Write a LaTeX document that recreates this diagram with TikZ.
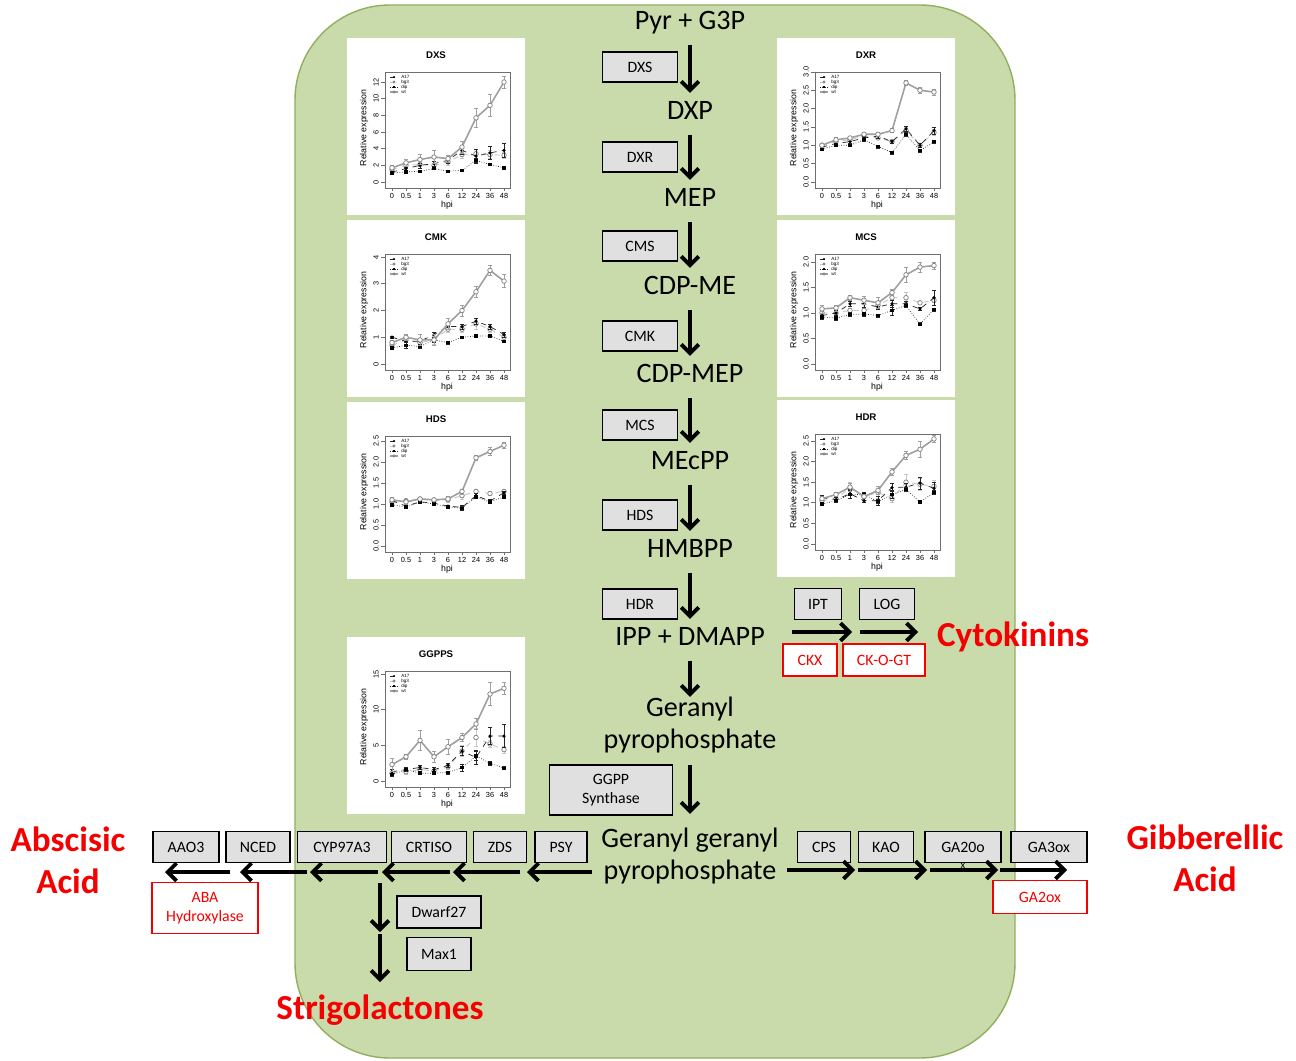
\documentclass[tikz,border=0pt]{standalone}
\usepackage{fontspec}
\setmainfont{Carlito}
\newfontfamily\plotfont{Liberation Sans}
\usetikzlibrary{arrows.meta}
\definecolor{bggreen}{RGB}{201,219,170}
\definecolor{bgedge}{RGB}{145,175,95}
\definecolor{boxgray}{RGB}{224,224,224}
\definecolor{lblred}{RGB}{245,0,0}
\definecolor{pgray}{RGB}{110,110,110}

\tikzset{
 met/.style={font=\fontsize{16}{18}\selectfont, text height=11.2pt, text depth=3.2pt, inner sep=2pt, align=center},
 mettwo/.style={font=\fontsize{16}{18}\selectfont, inner sep=2pt, align=center},
 enz/.style={draw=black, line width=1.1pt, fill=boxgray, font=\fontsize{9}{11}\selectfont, minimum width=1.5cm, minimum height=0.6cm, inner sep=1pt, align=center},
 inh/.style={draw=lblred, line width=1.1pt, fill=white, text=lblred, font=\fontsize{9}{11}\selectfont, minimum height=0.64cm, inner sep=1pt, align=center},
 prod/.style={text=lblred, font=\fontsize{20}{24}\selectfont\bfseries, align=center, inner sep=1pt},
 flow/.style={line width=2.2pt, -{Straight Barb[length=5pt,width=10pt]}},
 pframe/.style={draw=pgray, line width=0.4pt},
 ptick/.style={font=\plotfont\fontsize{4.2}{5}\selectfont, inner sep=0pt},
 plab/.style={font=\plotfont\fontsize{5}{6}\selectfont, inner sep=0pt},
 pleg/.style={font=\plotfont\fontsize{2.6}{3}\selectfont, inner sep=0pt},
 ptitle/.style={font=\plotfont\bfseries\fontsize{5.5}{6}\selectfont, inner sep=0pt},
 wts/.style={draw=gray!75, line width=0.9pt},
 bgs/.style={draw=gray!45, line width=0.5pt, dashed},
 aas/.style={draw=black!85, line width=0.4pt, dashed},
 dps/.style={draw=black!85, line width=0.4pt, densely dotted},
 mko/.style={circle, draw=gray, fill=white, inner sep=0pt, minimum size=2.6pt, line width=0.4pt},
 mkf/.style={rectangle, fill=black, inner sep=0pt, minimum size=1.9pt},
 mkc/.style={circle, fill=black, inner sep=0pt, minimum size=2pt},
}

\newcommand\plotframe[3]{%
 \fill[white] (0,0) rectangle (178,177);
 \node[ptitle] at (89,17) {#1};
 \draw[pframe] (38,34) rectangle (163,150);
 \foreach \tv/\tl in {#3} {\draw[pframe] (38,{144-\tv*#2}) -- (34,{144-\tv*#2});
   \node[ptick,rotate=90] at (29,{144-\tv*#2}) {\tl};}
 \foreach \tl [count=\ti from 0] in {0,0.5,1,3,6,12,24,36,48} {\draw[pframe] ({45+14*\ti},150) -- ({45+14*\ti},153);
   \node[ptick] at ({45+14*\ti},158) {\tl};}
 \node[plab] at (100,167) {hpi};
 \node[plab,rotate=90] at (17,90) {Relative expression};
 \foreach \lnm/\lst/\lmk [count=\lk from 0] in {A17/aas/mkc, bg3/bgs/mko, dip/dps/mkf, wt/wts/mko} {
   \draw[\lst] (43,{39+5*\lk}) -- (51,{39+5*\lk});
   \node[\lmk, minimum size=1.4pt] at (47,{39+5*\lk}) {};
   \node[pleg, anchor=west] at (54,{39+5*\lk}) {\lnm};}
}

\newcommand\series[4]{%
 \foreach \sv/\se [count=\si from 0] in {#4} {
   \coordinate (q\si) at ({45+14*\si},{144-\sv*#3});
   \draw[#1,solid,line width=0.35pt] ({45+14*\si},{144-(\sv-\se)*#3}) -- ({45+14*\si},{144-(\sv+\se)*#3})
     ({43+14*\si},{144-(\sv-\se)*#3}) -- ({47+14*\si},{144-(\sv-\se)*#3})
     ({43+14*\si},{144-(\sv+\se)*#3}) -- ({47+14*\si},{144-(\sv+\se)*#3});
 }
 \draw[#1] (q0)--(q1)--(q2)--(q3)--(q4)--(q5)--(q6)--(q7)--(q8);
 \foreach \si in {0,...,8} \node[#2] at (q\si) {};
}

\begin{document}
\begin{tikzpicture}[x=0.02cm, y=-0.02cm]
\useasboundingbox (0,0) rectangle (1296,1061);
\fill[white] (0,0) rectangle (1296,1061);
\draw[fill=bggreen, draw=bgedge, line width=0.8pt, rounded corners=1.9cm] (295,5) rectangle (1015,1058);

% ---------- plots ----------
\begin{scope}[shift={(347,38)}]
 \plotframe{DXS}{8.33}{0/0,2/2,4/4,6/6,8/8,10/10,12/12}
 \series{bgs}{mko}{8.33}{1.5/0.2,2.0/0.3,2.1/0.2,2.0/0.3,2.4/0.4,3.3/0.4,3.4/0.5,3.3/0.5,3.2/0.4}
 \series{aas}{mkc}{8.33}{1.2/0.2,1.6/0.2,2.0/0.3,2.2/0.3,2.6/0.3,3.8/0.5,3.1/0.8,3.5/0.8,3.8/0.8}
 \series{dps}{mkf}{8.33}{1.1/0.1,1.2/0.1,1.3/0.1,1.6/0.1,1.3/0.1,1.4/0.1,2.6/0.2,2.1/0.1,1.7/0.1}
 \series{wts}{mko}{8.33}{1.7/0.3,2.3/0.4,2.7/0.6,3.0/0.8,2.8/0.4,4.2/0.7,7.7/1.1,9.2/1.3,12/0.7}
\end{scope}
\begin{scope}[shift={(347,220)}]
 \plotframe{CMK}{26.75}{0/0,1/1,2/2,3/3,4/4}
 \series{bgs}{mko}{26.75}{0.7/0.1,0.9/0.1,0.8/0.1,0.9/0.15,1.3/0.1,1.3/0.1,1.5/0.2,1.3/0.1,1.0/0.1}
 \series{aas}{mkc}{26.75}{1.0/0.05,0.85/0.1,0.85/0.1,1.1/0.1,1.4/0.1,1.4/0.1,1.6/0.1,1.4/0.1,1.1/0.1}
 \series{dps}{mkf}{26.75}{0.6/0.05,0.7/0.1,0.65/0.05,0.9/0.1,0.8/0.05,1.0/0.05,1.05/0.05,1.05/0.05,0.85/0.05}
 \series{wts}{mko}{26.75}{0.8/0.1,1.0/0.1,0.9/0.2,0.9/0.2,1.5/0.2,2.0/0.2,2.7/0.2,3.5/0.2,3.1/0.25}
\end{scope}
\begin{scope}[shift={(347,402)}]
 \plotframe{HDS}{42}{0/0.0,0.5/0.5,1/1.0,1.5/1.5,2/2.0,2.5/2.5}
 \series{bgs}{mko}{42}{1.05/0.05,1.08/0.04,1.12/0.04,1.08/0.04,1.1/0.05,1.2/0.08,1.3/0.05,1.25/0.05,1.3/0.05}
 \series{aas}{mkc}{42}{1.08/0.05,0.95/0.05,1.05/0.04,1.02/0.04,0.95/0.03,0.92/0.05,1.2/0.05,1.07/0.04,1.27/0.04}
 \series{dps}{mkf}{42}{0.98/0.04,0.93/0.04,1.05/0.04,1.0/0.03,0.93/0.03,0.9/0.04,1.17/0.04,1.05/0.04,1.17/0.04}
 \series{wts}{mko}{42}{1.1/0.05,1.05/0.05,1.12/0.04,1.1/0.04,1.12/0.06,1.3/0.06,2.1/0.05,2.25/0.1,2.4/0.08}
\end{scope}
\begin{scope}[shift={(347,637)}]
 \plotframe{GGPPS}{7.13}{0/0,5/5,10/10,15/15}
 \series{bgs}{mko}{7.13}{1.1/0.3,1.3/0.3,1.6/0.4,1.4/0.3,2.0/0.4,4.2/0.8,6.1/1.3,5.2/0.5,4.4/0.5}
 \series{aas}{mkc}{7.13}{1.3/0.4,1.6/0.3,1.9/0.3,1.6/0.3,2.2/0.3,4.2/0.6,3.3/1.0,6.3/1.2,6.3/1.6}
 \series{dps}{mkf}{7.13}{0.9/0.2,1.6/0.2,1.1/0.2,1.1/0.2,1.2/0.2,1.9/0.5,3.5/0.6,2.5/0.3,1.8/0.2}
 \series{wts}{mko}{7.13}{2.3/0.9,3.4/0.3,5.7/1.4,3.4/0.8,4.8/1.1,6.1/0.6,8.0/0.8,12.2/1.6,13.0/0.8}
\end{scope}
\begin{scope}[shift={(777,38)}]
 \plotframe{DXR}{36.7}{0/0.0,0.5/0.5,1/1.0,1.5/1.5,2/2.0,2.5/2.5,3/3.0}
 \series{bgs}{mko}{36.7}{1.0/0.05,1.1/0.05,1.15/0.05,1.25/0.05,1.2/0.05,1.1/0.05,1.4/0.08,1.0/0.05,1.35/0.08}
 \series{aas}{mkc}{36.7}{0.95/0.1,1.05/0.05,1.1/0.05,1.2/0.05,1.25/0.05,1.1/0.04,1.45/0.08,1.0/0.05,1.4/0.1}
 \series{dps}{mkf}{36.7}{0.9/0.05,1.0/0.04,1.0/0.04,1.15/0.04,0.97/0.04,0.8/0.04,1.3/0.05,0.85/0.04,1.1/0.04}
 \series{wts}{mko}{36.7}{1.0/0.05,1.15/0.06,1.2/0.05,1.3/0.04,1.3/0.05,1.4/0.05,2.7/0.06,2.5/0.08,2.45/0.08}
\end{scope}
\begin{scope}[shift={(777,220)}]
 \plotframe{MCS}{51}{0/0.0,0.5/0.5,1/1.0,1.5/1.5,2/2.0}
 \series{bgs}{mko}{51}{1.0/0.05,1.0/0.05,1.05/0.05,1.05/0.05,1.15/0.05,1.3/0.05,1.3/0.1,1.2/0.03,1.25/0.05}
 \series{aas}{mkc}{51}{0.95/0.05,1.0/0.05,1.18/0.05,1.18/0.06,1.12/0.05,1.18/0.06,1.18/0.05,1.08/0.03,1.3/0.15}
 \series{dps}{mkf}{51}{0.92/0.04,0.9/0.04,0.97/0.04,0.98/0.04,0.95/0.03,1.05/0.1,1.15/0.04,0.78/0.03,1.07/0.03}
 \series{wts}{mko}{51}{1.08/0.08,1.1/0.06,1.3/0.05,1.25/0.08,1.2/0.1,1.4/0.06,1.75/0.15,1.9/0.1,1.93/0.07}
\end{scope}
\begin{scope}[shift={(777,400)}]
 \plotframe{HDR}{41.2}{0/0.0,0.5/0.5,1/1.0,1.5/1.5,2/2.0,2.5/2.5}
 \series{bgs}{mko}{41.2}{1.05/0.05,1.1/0.05,1.35/0.15,1.15/0.1,1.25/0.15,1.1/0.1,1.5/0.2,1.45/0.15,1.4/0.15}
 \series{aas}{mkc}{41.2}{1.12/0.05,1.08/0.05,1.22/0.1,1.05/0.05,1.05/0.1,1.37/0.1,1.38/0.1,1.48/0.15,1.35/0.15}
 \series{dps}{mkf}{41.2}{0.97/0.04,1.05/0.04,1.2/0.1,1.2/0.05,1.03/0.05,1.2/0.1,1.33/0.05,1.02/0.03,1.25/0.05}
 \series{wts}{mko}{41.2}{1.1/0.05,1.2/0.05,1.38/0.1,1.15/0.05,1.3/0.1,1.75/0.08,2.15/0.1,2.3/0.2,2.55/0.08}
\end{scope}

% ---------- central pathway ----------
\node[met] (pyr) at (690,22) {Pyr + G3P};
\node[met] (dxp) at (690,112) {DXP};
\node[met] (mep) at (690,199) {MEP};
\node[met] (cdpme) at (690,287) {CDP-ME};
\node[met] (cdpmep) at (690,375) {CDP-MEP};
\node[met] (mecpp) at (690,462) {MEcPP};
\node[met] (hmbpp) at (690,550) {HMBPP};
\node[met] (ipp) at (690,638) {IPP + DMAPP};
\node[mettwo] (gpp) at (690,725) {Geranyl\\pyrophosphate};
\node[mettwo] (ggpp) at (690,856) {Geranyl geranyl\\pyrophosphate};

\foreach \a/\b in {pyr/dxp, dxp/mep, mep/cdpme, cdpme/cdpmep, cdpmep/mecpp, mecpp/hmbpp, hmbpp/ipp}
  \draw[flow, shorten <=3.5pt, shorten >=1.5pt] (\a) -- (\b);
\draw[flow, shorten <=3.5pt, shorten >=-2pt] (ipp) -- (gpp);
\draw[flow, shorten <=5pt, shorten >=6pt] (gpp) -- (ggpp);

\node[enz] (dxs) at (640,67) {DXS};
\node[enz] (dxr) at (640,157) {DXR};
\node[enz] (cms) at (640,246) {CMS};
\node[enz] (cmk) at (640,336) {CMK};
\node[enz] (mcs) at (640,425) {MCS};
\node[enz] (hds) at (640,515) {HDS};
\node[enz] (hdr) at (640,604) {HDR};
\node[enz, minimum width=2.46cm, minimum height=1cm] (ggps) at (611,790) {GGPP\\Synthase};

% ---------- cytokinins ----------
\node[enz, minimum width=0.94cm, minimum height=0.62cm] (ipt) at (818,604) {IPT};
\node[enz, minimum width=1.1cm, minimum height=0.62cm] (log) at (887,604) {LOG};
\node[inh, minimum width=1.08cm] (ckx) at (810,660) {CKX};
\node[inh, minimum width=1.64cm] (ckogt) at (884,660) {CK-O-GT};
\node[prod] (cyto) at (1013,637) {Cytokinins};
\coordinate (c0) at (792,632); \coordinate (c1) at (852,632);
\coordinate (c2) at (860,632); \coordinate (c3) at (918,632);
\draw[flow] (c0) -- (c1);
\draw[flow] (c2) -- (c3);

% ---------- carotenoid / ABA branch ----------
\node[enz, minimum width=1.32cm, minimum height=0.62cm] (aao3) at (186,847) {AAO3};
\node[enz, minimum width=1.28cm, minimum height=0.62cm] (nced) at (258,847) {NCED};
\node[enz, minimum width=1.78cm, minimum height=0.62cm] (cyp) at (342,847) {CYP97A3};
\node[enz, minimum width=1.5cm, minimum height=0.62cm] (crtiso) at (429,847) {CRTISO};
\node[enz, minimum width=1.06cm, minimum height=0.62cm] (zds) at (500,847) {ZDS};
\node[enz, minimum width=1.04cm, minimum height=0.62cm] (psy) at (561,847) {PSY};
\node[inh, minimum width=2.12cm, minimum height=1.02cm] (abah) at (205,908) {ABA\\Hydroxylase};
\node[prod] (aba) at (68,860) {Abscisic\\Acid};
\coordinate (l0) at (592,872); \coordinate (l1) at (527,872);
\coordinate (l2) at (520,872); \coordinate (l3) at (453,872);
\coordinate (l4) at (450,872); \coordinate (l5) at (382,872);
\coordinate (l6) at (378,872); \coordinate (l7) at (310,872);
\coordinate (l8) at (307,872); \coordinate (l9) at (240,872);
\coordinate (l10) at (230,872); \coordinate (l11) at (165,872);
\foreach \a/\b in {l0/l1, l2/l3, l4/l5, l6/l7, l8/l9, l10/l11}
  \draw[flow] (\a) -- (\b);

% ---------- strigolactones ----------
\node[enz, minimum width=1.68cm, minimum height=0.64cm] (dwarf) at (439,912) {Dwarf27};
\node[enz, minimum width=1.28cm, minimum height=0.66cm] (max1) at (439,954) {Max1};
\node[prod] (strig) at (380,1010) {Strigolactones};
\coordinate (d0) at (380,883); \coordinate (d1) at (380,932);
\coordinate (d2) at (380,934); \coordinate (d3) at (380,982);
\draw[flow] (d0) -- (d1);
\draw[flow] (d2) -- (d3);

% ---------- gibberellins ----------
\node[enz, minimum width=1.06cm, minimum height=0.62cm] (cps) at (824,847) {CPS};
\node[enz, minimum width=1.1cm, minimum height=0.62cm] (kao) at (886,847) {KAO};
\node[enz, minimum width=1.52cm, minimum height=0.62cm] (ga20) at (963,847) {GA20o};
\node[enz, minimum width=1.52cm, minimum height=0.62cm] (ga3) at (1049,847) {GA3ox};
\node[inh, minimum width=1.88cm, minimum height=0.66cm] (ga2) at (1040,897) {GA2ox};
\node[prod] (gib) at (1205,858) {Gibberellic\\Acid};
\coordinate (r0) at (787,870); \coordinate (r1) at (855,870);
\coordinate (r2) at (858,870); \coordinate (r3) at (927,870);
\coordinate (r4) at (930,870); \coordinate (r5) at (998,870);
\coordinate (r6) at (1000,870); \coordinate (r7) at (1067,870);
\foreach \a/\b in {r0/r1, r2/r3, r4/r5, r6/r7}
  \draw[flow] (\a) -- (\b);
\node[font=\fontsize{6}{6}\selectfont, inner sep=0pt] (xmark) at (963,866) {x};
\end{tikzpicture}
\end{document}
